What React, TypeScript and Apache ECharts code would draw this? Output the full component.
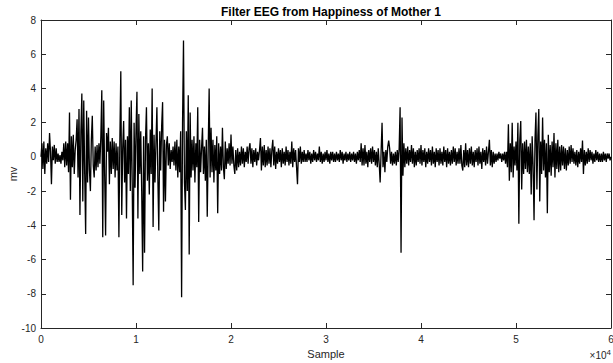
import React, { useEffect, useRef } from "react";
import * as echarts from "echarts";

const TITLE = "Filter EEG from Happiness of Mother 1";
const X_NAME = "Sample";
const Y_NAME = "mv";
const STEP = 100; // samples between stored points
const X_TICKS = [0, 10000, 20000, 30000, 40000, 50000, 60000];
const Y_TICKS = [-10, -8, -6, -4, -2, 0, 2, 4, 6, 8];

// EEG trace, one value every STEP samples (0 .. 60000)
const seg0 = [
  0, 0.8, -0.7, 0.9, -1.0, 0.5, -0.4, 0.8, -0.3, 1.4,
  0.3, -1.6, 0.6, -0.2, 0.7, -0.4, 0.5, -0.3, 0.2, -0.3,
  0.1, -0.4, 0.3, -0.2, 0.8, -0.6, 0.9, -0.5, 0.8, -0.9,
  2.6, -2.5, 1.2, -0.6, 1.3, -1.0, 0.4, 1.0, 2.2, -1.2,
  2.8, -3.4, 1.5, 3.7, -2.6, 3.3, -1.0, -4.5, 2.7, -1.5,
  2.3, -0.8, -2.0, 1.0, 2.4, -0.5, -1.2, 0.6, -0.8, 0.7,
  -0.6, 0.8, -0.4, 1.2, 3.9, -4.7, 3.3, -1.0, -4.6, 1.4,
  0.3, 1.7, -1.6, 0.9, -1.0, 1.1, -0.7, 0.9, -1.2, 0.8,
  -0.8, 0.6, -4.7, 1.0, 5.0, -3.4, 0.5, 2.1, -1.5, 1.0,
  -3.6, 1.2, -1.0, 2.9, -2.0, 3.3, -1.5, -7.5, 2.0, -1.8,
];
const seg1 = [
  1.5, 3.8, -3.6, 2.5, -1.0, 1.5, -2.0, -6.7, 1.2, -5.6,
  1.0, 2.9, -1.4, 0.8, -2.2, 1.6, -1.0, 4.0, -4.1, 1.3,
  -1.5, 0.8, 2.9, -1.2, -4.3, 1.5, -0.8, 1.8, 3.2, -3.2,
  1.0, -2.6, 0.7, 1.2, -0.5, 0.8, -0.7, 0.4, -0.3, 0.6,
  -0.5, 0.9, -0.8, 1.0, -1.2, 0.6, -0.9, 1.5, -8.2, 2.0,
  6.8, -1.5, -3.1, 1.5, -2.0, 3.6, -5.7, 2.6, -1.2, 1.0,
  -0.8, 1.2, -1.5, 0.8, -0.6, 2.9, -3.8, 1.0, -0.9, 0.5,
  1.7, -1.0, 0.6, -1.4, 1.0, -3.5, 0.5, 4.0, -1.2, 1.7,
  -0.9, 1.0, -1.5, 0.7, -0.8, 1.2, -3.3, 0.8, -1.0, 0.6,
  -0.8, 1.7, -0.6, -1.3, 0.9, -0.7, 0.5, -0.4, 0.8, -0.5,
];
const seg2 = [
  1.3, -0.4, 0.6, -0.5, -1.0, 0.4, -0.8, 0.5, -0.6, 0.3,
  -0.5, 0.6, -0.4, 0.5, -0.6, 0.3, -0.3, 0.6, -0.4, 0.5,
  0.8, -0.4, 0.5, -0.6, 0.4, -0.3, 0.5, -0.5, 0.3, -0.2,
  0.4, 1.1, -0.8, 0.6, -0.5, 0.7, -0.6, 0.4, -0.5, 0.6,
  -0.4, 0.5, -0.6, 0.4, 1.0, -0.5, 0.6, -0.7, 0.3, -0.4,
  0.5, -0.3, 0.4, -0.6, 0.5, -0.4, 0.3, -0.5, 0.6, -0.3,
  0.4, -0.5, 0.3, -0.4, 0.9, -0.6, 0.5, -0.3, 0.4, -0.6,
  -1.6, 0.5, -0.3, 0.6, -0.4, 0.3, -0.3, 0.4, -0.3, 0.2,
  -0.3, 0.4, -0.2, 0.3, -0.4, 0.2, -0.3, 0.4, -0.2, 0.3,
  -0.3, 0.2, -0.2, 0.6, -0.3, 0.3, -0.4, 0.2, -0.3, 0.3,
];
const seg3 = [
  -0.2, 0.4, -0.3, 0.2, -0.4, 0.3, -0.2, 0.3, -0.3, 0.2,
  -0.3, 0.3, -0.2, 0.2, -0.3, 0.4, -0.2, 0.3, -0.4, 0.2,
  -0.2, 0.3, -0.3, 0.2, -0.2, 0.3, -0.3, 0.2, -0.2, 0.3,
  -0.3, 0.2, -0.4, 0.3, -0.2, 0.4, -0.3, 0.8, -0.5, 0.5,
  -0.5, 0.7, -0.4, 0.3, -0.6, 0.4, -0.3, 0.5, -0.4, 0.6,
  -0.3, 0.4, -0.5, 0.3, -0.6, 0.5, -0.4, -1.5, 0.3, 2.0,
  -0.6, 0.3, -0.9, 0.4, -0.3, 0.6, 0.95, 0.5, -0.4, 0.3,
  -0.5, 0.2, -0.4, 0.3, -0.5, 0.4, -0.3, 0.5, 2.9, -5.6,
  2.3, -1.1, 0.8, -0.6, 0.5, -0.4, 0.6, -0.5, 0.4, -0.3,
  0.7, -0.4, 0.5, -0.6, 0.3, -0.5, 0.4, -0.3, 0.5, -0.4,
];
const seg4 = [
  0.7, -0.5, 0.4, -0.3, 0.5, -0.6, 0.3, -0.4, 0.5, -0.3,
  0.4, -0.5, 0.6, -0.4, 0.3, -0.6, 0.5, -0.3, 0.4, -0.5,
  0.5, -0.4, 0.3, -0.5, 0.6, -0.3, 0.4, -0.6, 0.5, -0.4,
  0.3, -0.5, 0.4, -0.4, 0.6, -0.3, 0.5, -0.5, 0.3, -0.4,
  0.5, -0.4, 0.7, -0.5, -0.8, 0.4, -0.6, 0.8, -0.5, 0.4,
  -0.6, 0.5, -0.4, 0.6, -0.5, 0.3, -0.6, 0.4, -0.3, 0.5,
  -0.5, 0.6, -0.4, 0.3, -0.7, 0.5, -0.3, 0.4, -0.5, 0.6,
  -0.4, 0.3, 1.0, -0.5, 0.4, -0.6, 0.3, -0.4, 0.2, -0.3,
  0.2, -0.2, 0.3, -0.1, 0.2, -0.3, 0.2, -0.2, 0.3, -0.4,
  0.3, -0.6, 1.9, -1.4, 0.8, -0.9, 2.0, -1.2, 0.6, -0.5,
];
const seg5 = [
  0.9, -0.8, 2.0, -3.9, 1.0, 2.1, -1.9, 0.8, -1.0, 0.9,
  -0.7, 1.0, -0.9, 0.6, -1.0, 0.8, -2.2, 1.2, -0.5, -3.7,
  1.0, 2.6, -1.9, 1.2, 2.8, -2.6, 0.9, -1.0, 2.3, -0.8,
  1.0, -1.2, 0.8, -3.3, 1.3, -0.9, 0.7, -1.1, 0.9, -0.6,
  1.4, -1.2, 0.8, -0.7, 1.0, -0.9, 0.6, -0.8, 0.7, -0.5,
  0.6, -0.7, 0.5, -0.8, 0.4, -0.5, 0.6, -0.4, 0.7, -0.3,
  0.5, -0.4, 0.3, -0.5, 0.4, -0.6, 0.3, -0.4, 0.5, -0.3,
  0.95, -1.0, 0.4, -0.5, 0.3, -0.4, 0.5, -0.3, 0.4, -0.2,
  0.3, -0.4, 0.2, -0.3, 0.4, -0.2, 0.3, -0.3, 0.2, -0.3,
  0.2, -0.3, 0.3, -0.2, 0.2, -0.3, 0.2, -0.1, 0.2, -0.2, 0.0,
];

const values = [...seg0, ...seg1, ...seg2, ...seg3, ...seg4, ...seg5];

const FONT = "'Liberation Sans', Arial, Helvetica, sans-serif";
const AXIS_COLOR = "#262626";

export default function App() {
  const ref = useRef<HTMLDivElement>(null);

  useEffect(() => {
    if (!ref.current) return;
    const chart = echarts.init(ref.current, undefined, { renderer: "svg" });
    const data = values.map((v, i) => [i * STEP, v]);
    const xMin = X_TICKS[0];
    const xMax = X_TICKS[X_TICKS.length - 1];
    const yMin = Y_TICKS[0];
    const yMax = Y_TICKS[Y_TICKS.length - 1];

    const axisLine = { show: true, onZero: false, lineStyle: { color: AXIS_COLOR, width: 1 } };
    const tick = { show: true, inside: true, length: 5, lineStyle: { color: AXIS_COLOR, width: 1 } };

    chart.setOption({
      animation: false,
      backgroundColor: "#ffffff",
      title: {
        text: TITLE,
        left: 326,
        textAlign: "center",
        top: 1,
        textStyle: { fontFamily: FONT, fontSize: 12, fontWeight: "bold", color: "#000" },
      },
      grid: { left: 41, right: 2, top: 20, bottom: 35, containLabel: false, outerBoundsMode: "none" },
      xAxis: [
        {
          type: "value",
          min: xMin,
          max: xMax,
          interval: 10000,
          name: X_NAME,
          nameLocation: "middle",
          nameGap: 20,
          nameMoveOverlap: false,
          nameTextStyle: { fontFamily: FONT, fontSize: 11, color: AXIS_COLOR },
          axisLine,
          axisTick: tick,
          splitLine: { show: false },
          axisLabel: {
            fontFamily: FONT,
            fontSize: 10,
            color: AXIS_COLOR,
            margin: 6,
            formatter: (v: number) => String(v / 10000),
          },
        },
        {
          type: "value",
          position: "top",
          min: xMin,
          max: xMax,
          interval: 10000,
          axisLine,
          axisTick: tick,
          axisLabel: { show: false },
          splitLine: { show: false },
        },
      ],
      yAxis: [
        {
          type: "value",
          min: yMin,
          max: yMax,
          interval: 2,
          name: Y_NAME,
          nameLocation: "middle",
          nameGap: 23,
          nameMoveOverlap: false,
          nameTextStyle: { fontFamily: FONT, fontSize: 11, color: AXIS_COLOR },
          axisLine,
          axisTick: tick,
          splitLine: { show: false },
          axisLabel: { fontFamily: FONT, fontSize: 10, color: AXIS_COLOR, margin: 5 },
        },
        {
          type: "value",
          position: "right",
          min: yMin,
          max: yMax,
          interval: 2,
          axisLine,
          axisTick: tick,
          axisLabel: { show: false },
          splitLine: { show: false },
        },
      ],
      graphic: [
        {
          type: "text",
          right: 2,
          top: 348,
          style: {
            text: "×10{s|4}",
            fontFamily: FONT,
            fontSize: 10,
            fill: AXIS_COLOR,
            rich: { s: { fontSize: 8, verticalAlign: "top", padding: [0, 0, 6, 0], fill: AXIS_COLOR, fontFamily: FONT } },
          },
        },
      ],
      series: [
        {
          type: "line",
          data,
          xAxisIndex: 0,
          yAxisIndex: 0,
          showSymbol: false,
          symbol: "none",
          lineStyle: { color: "#000000", width: 1.3 },
          silent: true,
          z: 1,
        },
      ],
    });
    return () => chart.dispose();
  }, []);

  return <div ref={ref} style={{ width: 613, height: 363, position: "fixed", left: 0, top: 0 }} />;
}
